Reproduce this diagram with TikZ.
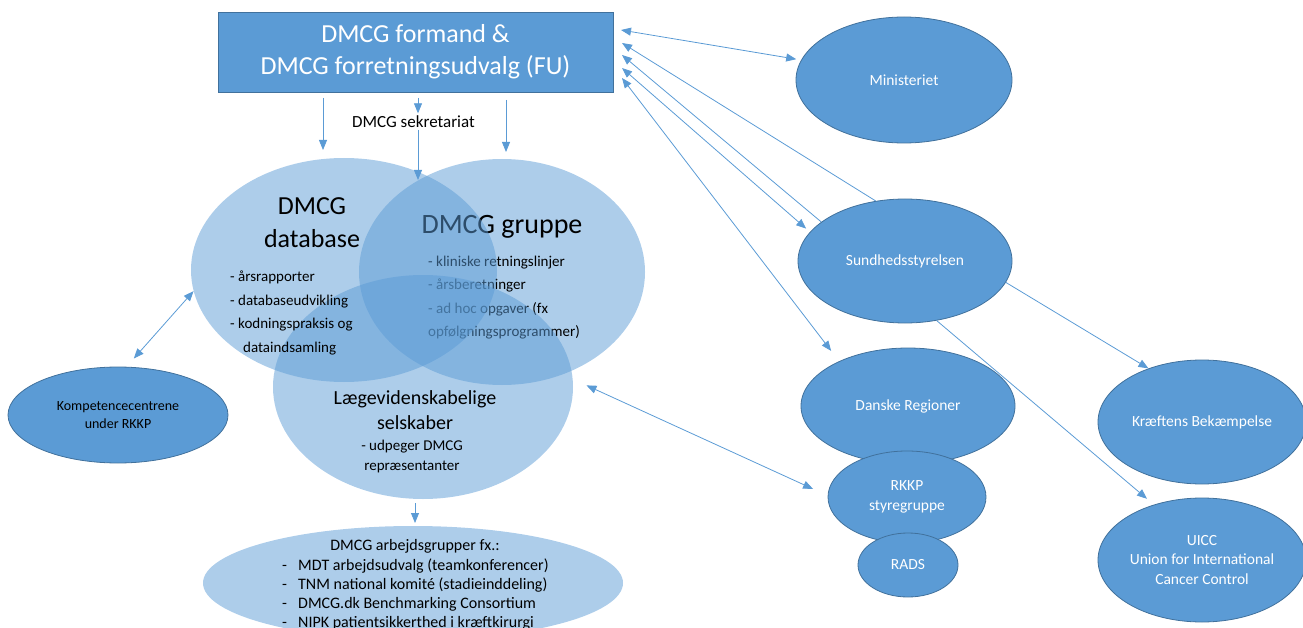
\documentclass[tikz,border=0pt]{standalone}
\usepackage{fontspec}
\setmainfont{Carlito}
\usetikzlibrary{shapes.geometric,arrows.meta}
\definecolor{fublue}{HTML}{5B9BD5}
\definecolor{fuline}{HTML}{41719C}

\begin{document}
\begin{tikzpicture}[x=1pt,y=-1pt,
      org/.style={ellipse,draw=fuline,line width=0.8pt,fill=fublue,text=white,
        inner sep=0pt,align=center,font=\fontsize{15.5}{19.5}\selectfont},
      venn/.style={ellipse,fill=fublue,fill opacity=0.5,inner sep=0pt},
      listtext/.style={anchor=north west,align=left,inner sep=0pt},
      link/.style={draw=fublue,line width=0.8pt,-{Triangle[length=10pt,width=8pt]}},
      twoway/.style={link,{Triangle[length=10pt,width=8pt]}-{Triangle[length=10pt,width=8pt]}}]
    \useasboundingbox (0,0) rectangle (1303,628);
    \clip (0,0) rectangle (1303,628);

    \node[draw=fuline,line width=0.8pt,fill=fublue,text=white,minimum width=395pt,
      minimum height=80pt,align=center,font=\fontsize{26}{32}\selectfont]
      (fu) at (415.5,52) {DMCG formand \&\\DMCG forretningsudvalg (FU)};
    \node[font=\fontsize{17}{20}\selectfont,inner sep=2pt] (sek) at (413.5,121.5) {DMCG sekretariat};

    \node[venn,minimum width=286pt,minimum height=226pt] (gruppe) at (502,272) {};
    \node[font=\fontsize{28}{32}\selectfont] (gtitle) at (502,227) {DMCG gruppe};
    \node[listtext,font=\fontsize{15}{23.5}\selectfont] (glist) at (428,255.5)
      {- kliniske retningslinjer\\- årsberetninger\\- ad hoc opgaver (fx\\opfølgningsprogrammer)};
    \node[venn,minimum width=306pt,minimum height=224pt] (dbase) at (344,270) {};
    \node[venn,minimum width=300pt,minimum height=224pt] (lvs) at (423,387) {};
    \node[align=center,font=\fontsize{26}{33}\selectfont] (dtitle) at (312,223) {DMCG\\database};
    \node[listtext,font=\fontsize{15}{23.5}\selectfont] (dlist) at (230,271)
      {- årsrapporter\\- databaseudvikling\\- kodningspraksis og\\\hspace*{13pt}dataindsamling};
    \node[align=center,font=\fontsize{20}{25}\selectfont] (ltitle) at (415,410.5) {Lægevidenskabelige\\selskaber};
    \node[align=center,font=\fontsize{15}{20}\selectfont] (ltext) at (412,456) {- udpeger DMCG\\repræsentanter};

    \node[venn,minimum width=420pt,minimum height=114pt] (arb) at (413,583) {};
    \node[font=\fontsize{16}{19}\selectfont] (arbtitle) at (415,546) {DMCG arbejdsgrupper fx.:};
    \node[listtext,font=\fontsize{16}{19}\selectfont] (arblist) at (282,559)
      {\makebox[16pt][l]{-}MDT arbejdsudvalg (teamkonferencer)\\
       \makebox[16pt][l]{-}TNM national komité (stadieinddeling)\\
       \makebox[16pt][l]{-}DMCG.dk Benchmarking Consortium\\
       \makebox[16pt][l]{-}NIPK patientsikkerthed i kræftkirurgi};

    \node[org,text=black,minimum width=220pt,minimum height=96pt,font=\fontsize{14}{18}\selectfont]
      (komp) at (118,415) {Kompetencecentrene\\under RKKP};
    \node[org,minimum width=216pt,minimum height=126pt] (min) at (904,80) {Ministeriet};
    \node[org,minimum width=214pt,minimum height=124pt] (sund) at (905,261) {Sundhedsstyrelsen};
    \node[org,minimum width=214pt,minimum height=116pt] (dr) at (908,406) {Danske Regioner};
    \node[org,minimum width=158pt,minimum height=92pt] (rkkp) at (907,497) {RKKP\\styregruppe};
    \node[org,minimum width=100pt,minimum height=64pt] (rads) at (908,565) {RADS};
    \node[org,minimum width=208pt,minimum height=124pt] (kb) at (1202,422) {Kræftens Bekæmpelse};
    \node[org,minimum width=208pt,minimum height=124pt] (uicc) at (1202,560)
      {UICC\\Union for International\\Cancer Control};

    \coordinate (fu-min) at (621,30);
    \coordinate (fu-s1) at (622,43);
    \coordinate (fu-s2) at (622,55);
    \coordinate (fu-s3) at (622,68);
    \coordinate (fu-dr) at (622,78);
    \coordinate (fu-db) at (323,98);
    \coordinate (db-top) at (323,150);
    \coordinate (fu-sek) at (418,98);
    \coordinate (venn-top) at (418,180);
    \coordinate (fu-gr) at (506,100);
    \coordinate (gr-top) at (506,152);
    \coordinate (lvs-bot) at (415,503);
    \coordinate (arb-top) at (415,523);

    \draw[link] (fu-db) -- (db-top);
    \draw[link] (fu-sek) -- (fu-sek |- sek.north);
    \draw[link] (fu-sek |- sek.south) -- (venn-top);
    \draw[link] (fu-gr) -- (gr-top);
    \draw[link] (lvs-bot) -- (arb-top);
    \draw[twoway,shorten >=5pt] (fu-min) -- (min.169);
    \draw[link] (sund.116) -- (fu-s1);
    \draw[link] (sund.155) -- (fu-s2);
    \draw[twoway,shorten >=5pt] (fu-s3) -- (sund.163);
    \draw[twoway,shorten >=13pt] (fu-dr) -- (dr.147);
    \draw[link] (sund.-12) -- (kb.135);
    \draw[link,shorten >=9pt] (sund.-62) -- (uicc.131);
    \draw[twoway,shorten <=15pt,shorten >=16pt] (lvs.3) -- (rkkp.179);
    \draw[twoway,shorten <=11pt] (komp.80) -- (dbase.188);
  \end{tikzpicture}
\end{document}
